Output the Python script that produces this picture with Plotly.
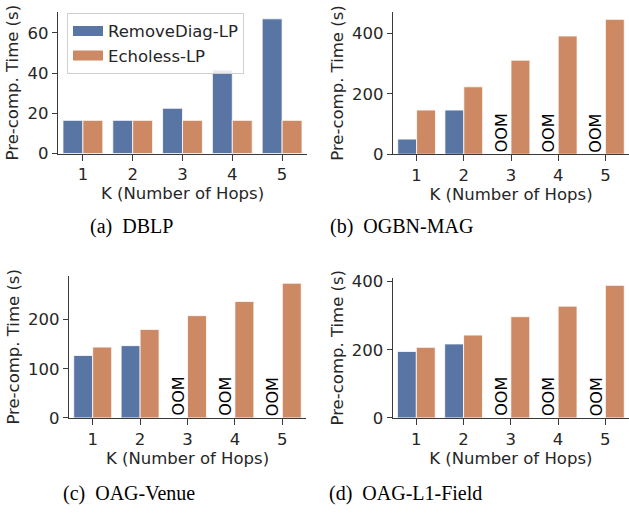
import plotly.graph_objects as go

hops = ["1", "2", "3", "4", "5"]

dblp_removediag = [16.5, 16.5, 22.5, 41.5, 67.0]
dblp_echoless = [16.5, 16.5, 16.5, 16.5, 16.5]

mag_removediag = [50, 146, None, None, None]
mag_echoless = [146, 223, 311, 391, 446]

venue_removediag = [127, 147, None, None, None]
venue_echoless = [144, 180, 208, 237, 274]

field_removediag = [195, 217, None, None, None]
field_echoless = [207, 243, 297, 328, 389]

captions = ["(a)\u00a0\u00a0DBLP", "(b)\u00a0\u00a0OGBN-MAG", "(c)\u00a0\u00a0OAG-Venue", "(d)\u00a0\u00a0OAG-L1-Field"]
y_ticks = [[0, 20, 40, 60], [0, 200, 400], [0, 100, 200], [0, 200, 400]]
y_ranges = [[0, 70.5], [0, 471], [0, 289], [0, 412]]

BLUE = "#5975A4"
ORANGE = "#CC8963"
TXT = "#262626"
FS = 16.5
W, H = 629, 514

# panel pixel boxes: (left, right, top, bottom)
boxes = [(58, 307, 7, 153), (393, 629, 7, 153.7), (69, 306, 279, 425.3), (392.7, 629, 280.7, 425.3)]
caption_pos = [(131, 228), (401, 228), (129, 503), (405, 503)]

panels = [
    (dblp_removediag, dblp_echoless),
    (mag_removediag, mag_echoless),
    (venue_removediag, venue_echoless),
    (field_removediag, field_echoless),
]

fig = go.Figure()
annotations = []
layout = {}
for i, (rd, el) in enumerate(panels):
    n = i + 1
    xa = "x" if n == 1 else f"x{n}"
    ya = "y" if n == 1 else f"y{n}"
    fig.add_trace(go.Bar(x=hops, y=rd, marker=dict(color=BLUE, line=dict(color="white", width=0.8)),
                         name="RemoveDiag-LP", showlegend=False, xaxis=xa, yaxis=ya, offsetgroup="a"))
    fig.add_trace(go.Bar(x=hops, y=el, marker=dict(color=ORANGE, line=dict(color="white", width=0.8)),
                         name="Echoless-LP", showlegend=False, xaxis=xa, yaxis=ya, offsetgroup="b"))
    l, r, t, b = boxes[i]
    xkey = "xaxis" if n == 1 else f"xaxis{n}"
    ykey = "yaxis" if n == 1 else f"yaxis{n}"
    layout[xkey] = dict(domain=[l / W, r / W], anchor=ya, type="category", range=[-0.5, 4.5],
                        showline=True, linecolor="#3a3a3a", linewidth=1.2, ticks="outside", ticklen=6,
                        tickcolor="#3a3a3a", tickfont=dict(size=FS, color=TXT), showgrid=False,
                        title=dict(text="K (Number of Hops)", font=dict(size=FS, color=TXT), standoff=0))
    layout[ykey] = dict(domain=[1 - b / H, 1 - t / H], anchor=xa, range=y_ranges[i], tickvals=y_ticks[i],
                        showline=True, linecolor="#3a3a3a", linewidth=1.2, ticks="outside", ticklen=5,
                        tickcolor="#3a3a3a", tickfont=dict(size=FS, color=TXT), showgrid=False, zeroline=False,
                        title=dict(text="Pre-comp. Time (s)", font=dict(size=FS, color=TXT), standoff=4))
    for k, v in enumerate(rd):
        if v is None:
            annotations.append(dict(x=k - 0.2, y=0, xref=xa, yref=ya, text="OOM", textangle=-90,
                                    showarrow=False, yanchor="bottom", xanchor="center",
                                    font=dict(size=16, color="black", family="DejaVu Sans")))
    cx, cy = caption_pos[i]
    annotations.append(dict(x=cx / W, y=1 - cy / H, xref="paper", yref="paper", text=captions[i],
                            showarrow=False, xanchor="center", yanchor="middle",
                            font=dict(size=20, color="black", family="Liberation Serif")))

# legend entries (panel a)
fig.add_trace(go.Scatter(x=[None], y=[None], mode="lines", line=dict(color=BLUE, width=12),
                         name="RemoveDiag-LP", xaxis="x", yaxis="y"))
fig.add_trace(go.Scatter(x=[None], y=[None], mode="lines", line=dict(color=ORANGE, width=12),
                         name="Echoless-LP", xaxis="x", yaxis="y"))

fig.update_layout(
    width=W, height=H, margin=dict(l=0, r=0, t=0, b=0),
    paper_bgcolor="white", plot_bgcolor="white",
    font=dict(family="DejaVu Sans", color=TXT),
    barmode="group", bargap=0.2, bargroupgap=0,
    showlegend=True,
    legend=dict(x=67 / W, y=1 - 8 / H, xanchor="left", yanchor="top",
                bgcolor="rgba(255,255,255,0.85)", bordercolor="#d0d0d0", borderwidth=1,
                font=dict(size=FS, color=TXT), itemwidth=30, tracegroupgap=2),
    annotations=annotations,
    **layout,
)
fig.write_html(
    "out.html", config={"displayModeBar": False},
    post_script=("document.documentElement.style.margin='0';document.documentElement.style.overflow='hidden';"
                 "document.body.style.margin='0';document.body.style.overflow='hidden';"),
)
